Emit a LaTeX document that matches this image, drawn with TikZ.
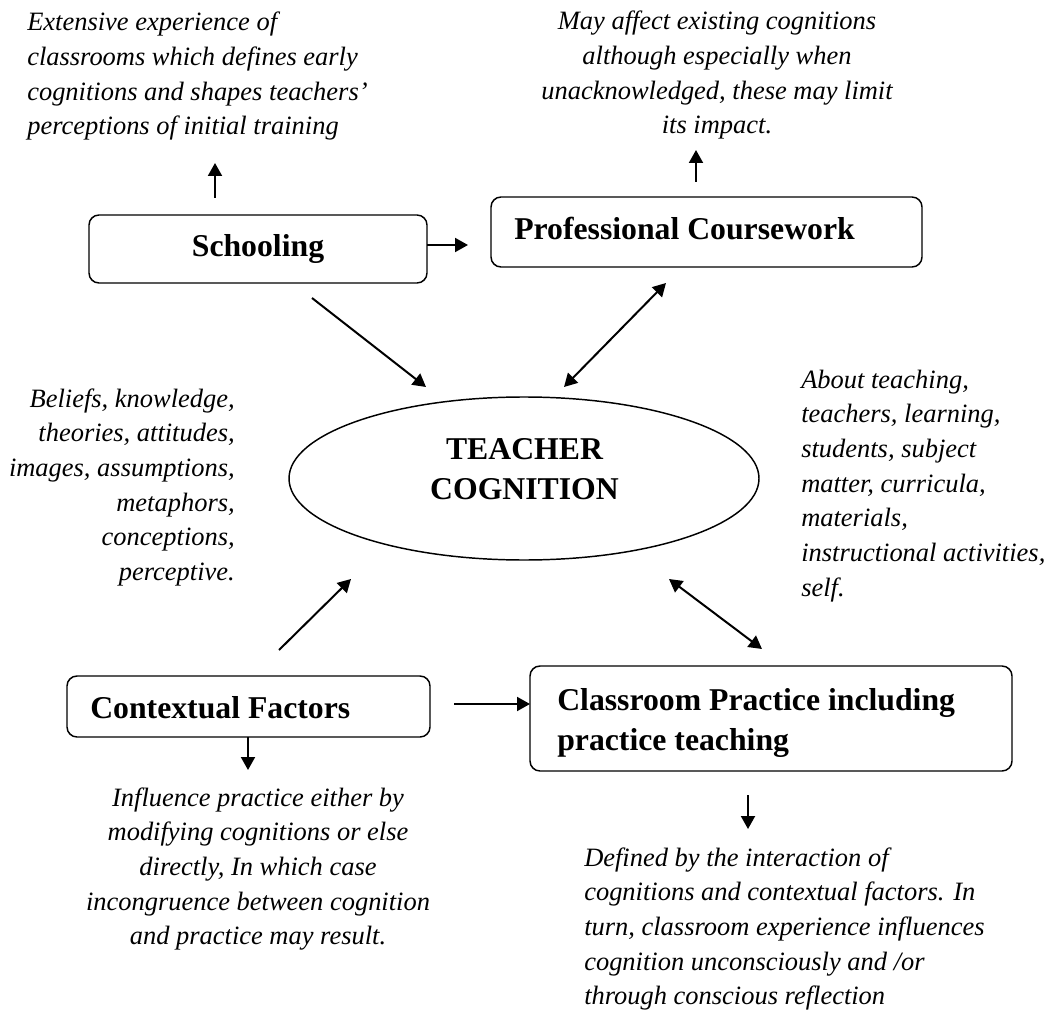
\documentclass[tikz,border=0pt]{standalone}
\usepackage{fontspec}
\setmainfont{Liberation Serif}
\usetikzlibrary{arrows.meta,shapes.geometric}
\begin{document}
\begin{tikzpicture}[x=0.75pt,y=-0.75pt]
\tikzset{
  box/.style={draw, rounded corners=7.5pt, line width=1.1pt, inner sep=0pt},
  oval/.style={draw, ellipse, line width=1.1pt, inner sep=0pt},
  itxt/.style={inner sep=0pt, font=\fontsize{19.85pt}{26pt}\selectfont\itshape},
  btxt/.style={inner sep=0pt, font=\fontsize{23.8pt}{30pt}\selectfont\bfseries},
  arr/.style={line width=1.5pt, -{Triangle[length=9.75pt,width=10.5pt]}},
  darr/.style={line width=1.5pt, {Triangle[length=9.75pt,width=10.5pt]}-{Triangle[length=9.75pt,width=10.5pt]}},
}
\useasboundingbox (0,0) rectangle (1054,1013);

% boxes
\node[box, minimum width=253.5pt, minimum height=51pt] (school) at (258,249) {};
\node[box, minimum width=323.25pt, minimum height=52.5pt] (prof) at (706.5,232) {};
\node[box, minimum width=272.25pt, minimum height=45.75pt] (context) at (248.5,706.5) {};
\node[box, minimum width=361.5pt, minimum height=78.75pt] (class) at (771,718.5) {};
\node[oval, minimum width=352.5pt, minimum height=122.25pt] (tc) at (524,478.5) {};

% box labels
\node[btxt, anchor=base] (schoolT) at (258,257) {Schooling};
\node[btxt, anchor=base west] (profT) at (514,240) {Professional Coursework};
\node[btxt, anchor=base] (tcT) at (524.5,459) {\begin{tabular}[t]{@{}c@{}}TEACHER\\COGNITION\end{tabular}};
\node[btxt, anchor=base west] (contextT) at (90,718) {Contextual Factors};
\node[btxt, anchor=base west] (classT) at (557,710) {\begin{tabular}[t]{@{}l@{}}Classroom Practice including\\practice teaching\end{tabular}};

% italic notes
\node[itxt, anchor=base west] (noteSchool) at (27,31) {\begin{tabular}[t]{@{}l@{}}Extensive experience of\\classrooms which defines early\\cognitions and shapes teachers’\\perceptions of initial training\end{tabular}};
\node[itxt, anchor=base] (noteProf) at (717,30) {\begin{tabular}[t]{@{}c@{}}May affect existing cognitions\\although especially when\\unacknowledged, these may limit\\its impact.\end{tabular}};
\node[itxt, anchor=base east] (noteLeft) at (235,407) {\begin{tabular}[t]{@{}r@{}}Beliefs, knowledge,\\theories, attitudes,\\images, assumptions,\\metaphors,\\conceptions,\\perceptive.\end{tabular}};
\node[itxt, anchor=base west] (noteRight) at (801,388) {\begin{tabular}[t]{@{}l@{}}About teaching,\\teachers, learning,\\students, subject\\matter, curricula,\\materials,\\instructional activities,\\self.\end{tabular}};
\node[itxt, anchor=base] (noteContext) at (258,806) {\begin{tabular}[t]{@{}c@{}}Influence practice either by\\modifying cognitions or else\\directly, In which case\\incongruence between cognition\\and practice may result.\end{tabular}};
\node[itxt, anchor=base west] (noteClass) at (584,866) {\begin{tabular}[t]{@{}l@{}}Defined by the interaction of\\cognitions and contextual factors. In\\turn, classroom experience influences\\cognition unconsciously and /or\\through conscious reflection\end{tabular}};

% arrow end points
\coordinate (s1) at (215,198); \coordinate (s2) at (215,163);
\coordinate (sp1) at (427,245); \coordinate (sp2) at (468,245);
\coordinate (p1) at (696,182); \coordinate (p2) at (696,150);
\coordinate (st1) at (312,298); \coordinate (st2) at (426,387);
\coordinate (tp1) at (564,387); \coordinate (tp2) at (666,283);
\coordinate (ct1) at (279,650); \coordinate (ct2) at (351,579);
\coordinate (tk1) at (669,579); \coordinate (tk2) at (762,649);
\coordinate (cc1) at (454,704); \coordinate (cc2) at (530,704);
\coordinate (cd1) at (248,737); \coordinate (cd2) at (248,770);
\coordinate (kd1) at (748,795); \coordinate (kd2) at (748,829);

\draw[arr] (s1) -- (s2);
\draw[arr] (sp1) -- (sp2);
\draw[arr] (p1) -- (p2);
\draw[arr] (st1) -- (st2);
\draw[darr] (tp1) -- (tp2);
\draw[arr] (ct1) -- (ct2);
\draw[darr] (tk1) -- (tk2);
\draw[arr] (cc1) -- (cc2);
\draw[arr] (cd1) -- (cd2);
\draw[arr] (kd1) -- (kd2);
\end{tikzpicture}
\end{document}
